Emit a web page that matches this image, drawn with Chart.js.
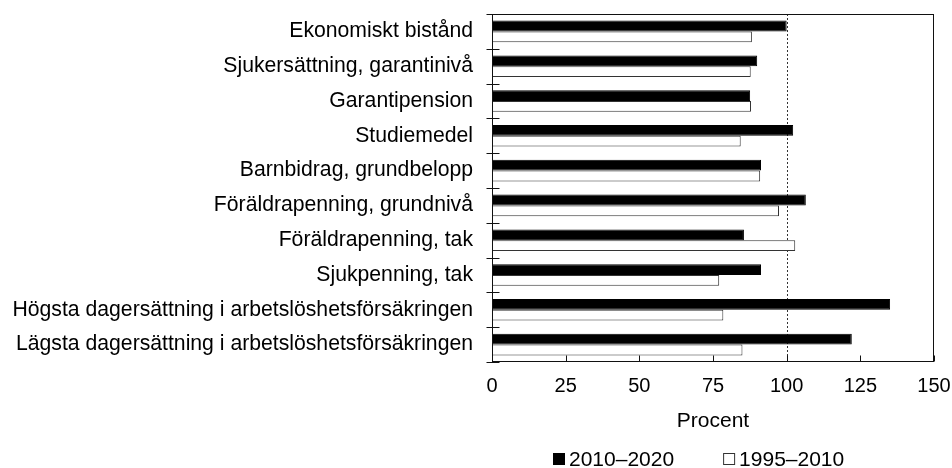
<!DOCTYPE html>
<html>
<head>
<meta charset="utf-8">
<script src="https://cdn.jsdelivr.net/npm/chart.js@4.4.1/dist/chart.umd.min.js"></script>
<style>
  html, body { margin: 0; padding: 0; background: #fff; }
  #wrap { width: 952px; height: 468px; position: relative; }
</style>
</head>
<body>
<div id="wrap"><canvas id="myChart"></canvas></div>
<script>
// Data (percent)
const categories = [
    'Ekonomiskt bistånd',
    'Sjukersättning, garantinivå',
    'Garantipension',
    'Studiemedel',
    'Barnbidrag, grundbelopp',
    'Föräldrapenning, grundnivå',
    'Föräldrapenning, tak',
    'Sjukpenning, tak',
    'Högsta dagersättning i arbetslöshetsförsäkringen',
    'Lägsta dagersättning i arbetslöshetsförsäkringen'
];
const seriesNames = ['2010–2020', '1995–2010'];
const values2010 = [100.0, 90.0, 87.6, 102.2, 91.3, 106.5, 85.5, 91.3, 135.1, 122.1];
const values1995 = [88.2, 87.8, 87.9, 84.4, 91.0, 97.4, 102.9, 77.1, 78.5, 85.0];
const xTickValues = [0, 25, 50, 75, 100, 125, 150];
const refValue = 100;

const FONT = '"Liberation Sans", Arial, sans-serif';

// frame, tick marks, dotted 100-line and the legend
const framePlugin = {
    id: 'frame',
    beforeDatasetsDraw(chart) {
        const { ctx, chartArea: a, scales: { x } } = chart;
        ctx.save();
        ctx.strokeStyle = '#333';
        ctx.lineWidth = 1;
        ctx.setLineDash([2, 2]);
        const rx = Math.round(x.getPixelForValue(refValue)) + 0.5;
        ctx.beginPath();
        ctx.moveTo(rx, a.top);
        ctx.lineTo(rx, a.bottom);
        ctx.stroke();
        ctx.restore();
    },
    afterDatasetsDraw(chart) {
        const { ctx, chartArea: a, scales: { x } } = chart;
        ctx.save();
        ctx.strokeStyle = '#111';
        ctx.lineWidth = 1;
        const l = Math.round(a.left) + 0.5, r = Math.round(a.right) - 0.5;
        const t = Math.round(a.top) + 0.5, b = Math.round(a.bottom) - 0.5;
        ctx.strokeRect(l, t, r - l, b - t);
        ctx.beginPath();
        // x ticks pointing into the plot
        xTickValues.forEach(v => {
            const px = Math.round(x.getPixelForValue(v)) + 0.5;
            ctx.moveTo(px, b);
            ctx.lineTo(px, b - 6);
        });
        // category separators crossing the y axis
        const n = categories.length;
        for (let i = 0; i <= n; i++) {
            const py = Math.round(a.top + i * (a.bottom - a.top) / n) + 0.5;
            ctx.moveTo(l - 6, py);
            ctx.lineTo(l + 7, py);
        }
        ctx.stroke();
        ctx.restore();
    },
    afterDraw(chart) {
        const { ctx } = chart;
        ctx.save();
        ctx.font = '21px ' + FONT;
        ctx.textBaseline = 'middle';
        let lx = 553;
        const ly = 459;
        chart.data.datasets.forEach(d => {
            ctx.fillStyle = d.backgroundColor;
            ctx.fillRect(lx + 0.5, ly - 5.5, 11, 11);
            ctx.strokeStyle = d.borderColor;
            ctx.lineWidth = 1;
            ctx.strokeRect(lx + 0.5, ly - 5.5, 11, 11);
            ctx.fillStyle = '#000';
            ctx.fillText(d.label, lx + 16, ly + 1);
            lx += 16 + ctx.measureText(d.label).width + 49;
        });
        ctx.restore();
    }
};

const ctx = document.getElementById('myChart').getContext('2d');
new Chart(ctx, {
    type: 'bar',
    data: {
        labels: categories,
        datasets: [{
            label: seriesNames[0],
            data: values2010,
            backgroundColor: '#000',
            borderColor: '#000',
            borderWidth: 1,
            categoryPercentage: 0.62,
            barPercentage: 1
        }, {
            label: seriesNames[1],
            data: values1995,
            backgroundColor: '#fff',
            borderColor: '#333',
            borderWidth: 1,
            categoryPercentage: 0.62,
            barPercentage: 1
        }]
    },
    options: {
        indexAxis: 'y',
        responsive: true,
        maintainAspectRatio: false,
        animation: false,
        layout: { padding: { top: 14, right: 18, left: 0, bottom: 0 } },
        plugins: {
            legend: { display: false },
            tooltip: { enabled: false }
        },
        scales: {
            x: {
                min: 0,
                max: 150,
                afterBuildTicks(scale) {
                    scale.ticks = xTickValues.map(v => ({ value: v }));
                },
                afterFit(scale) {
                    scale.height = 106;
                    scale.paddingLeft = 0;
                    scale.paddingRight = 0;
                },
                grid: { display: false, drawTicks: false },
                border: { display: false },
                ticks: {
                    color: '#000',
                    padding: 12,
                    maxRotation: 0,
                    font: { family: FONT, size: 20 }
                },
                title: {
                    display: true,
                    text: 'Procent',
                    color: '#000',
                    padding: { top: 0, bottom: 34 },
                    font: { family: FONT, size: 21 }
                }
            },
            y: {
                afterFit(scale) {
                    scale.width = 492;
                    scale.paddingTop = 0;
                    scale.paddingBottom = 0;
                },
                grid: { display: false, drawTicks: false },
                border: { display: false },
                ticks: {
                    color: '#000',
                    padding: 19,
                    autoSkip: false,
                    font: { family: FONT, size: 21.2 }
                }
            }
        }
    },
    plugins: [framePlugin]
});
</script>
</body>
</html>
